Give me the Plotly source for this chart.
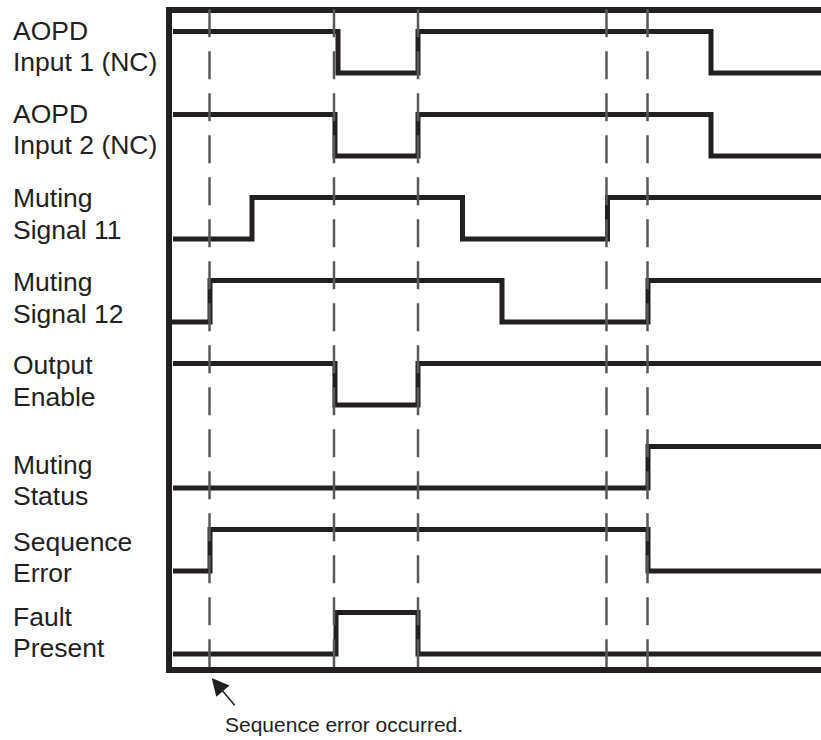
import plotly.graph_objects as go

# signal names (two text lines each)
signal_labels = [
    ("AOPD", "Input 1 (NC)"),
    ("AOPD", "Input 2 (NC)"),
    ("Muting", "Signal 11"),
    ("Muting", "Signal 12"),
    ("Output", "Enable"),
    ("Muting", "Status"),
    ("Sequence", "Error"),
    ("Fault", "Present"),
]

# step changes: time of each change and the level (1 = high, 0 = low) from then on
aopd1_t = [1, 166, 246, 539, 700]
aopd1_v = [1, 0, 1, 0, 0]
aopd2_t = [1, 163, 246, 539, 700]
aopd2_v = [1, 0, 1, 0, 0]
mute11_t = [1, 80, 290.5, 435.5, 700]
mute11_v = [0, 1, 0, 1, 1]
mute12_t = [-1, 38, 330, 476, 700]
mute12_v = [0, 1, 0, 1, 1]
out_en_t = [1, 163, 246, 700]
out_en_v = [1, 0, 1, 1]
mute_st_t = [1, 476, 700]
mute_st_v = [0, 1, 1]
seq_err_t = [1, 38, 476, 700]
seq_err_v = [0, 1, 0, 0]
fault_t = [1, 164, 246, 700]
fault_v = [0, 1, 0, 0]

# dashed reference instants
event_times = [37.5, 162, 246, 434.5, 475.5]
error_time = 39.7   # where the arrow points

caption = "Sequence error occurred."

signals = [
    (aopd1_t, aopd1_v), (aopd2_t, aopd2_v), (mute11_t, mute11_v), (mute12_t, mute12_v),
    (out_en_t, out_en_v), (mute_st_t, mute_st_v), (seq_err_t, seq_err_v), (fault_t, fault_v),
]

INK = "#231f20"
GREY = "#58595b"
FONT = "Liberation Sans, Arial, Helvetica, sans-serif"
AMP = 0.5          # high level height, in row units
ROW_PX = 83.0      # pixels per row
Y_TOP = 60 / ROW_PX
Y_BOT = -7 - 13 / ROW_PX


def to_paper(yv):
    return (yv - Y_BOT) / (Y_TOP - Y_BOT)


fig = go.Figure()

for i, (t, v) in enumerate(signals):
    fig.add_trace(go.Scatter(
        x=t, y=[-i + AMP * lv for lv in v],
        mode="lines", line=dict(color=INK, width=5, shape="hv"),
        hoverinfo="skip", showlegend=False
    ))

for t in event_times:
    fig.add_shape(
        type="line", xref="x", yref="paper", x0=t, x1=t, y0=1.0057, y1=-0.0092,
        line=dict(color=GREY, width=2.5, dash="28px,14px"), layer="above"
    )

# lift of the first label line above the row's low level (row units)
label_lift = [0.51, 0.51, 0.49, 0.48, 0.48, 0.28, 0.35, 0.45]
line_gap = 31.5 / ROW_PX

for i, (l1, l2) in enumerate(signal_labels):
    for k, txt in enumerate((l1, l2)):
        fig.add_annotation(
            x=-161 / 649, y=to_paper(-i + label_lift[i] - k * line_gap),
            xref="paper", yref="paper",
            text=txt, showarrow=False, xanchor="left", yanchor="middle",
            font=dict(family=FONT, size=26.5, color=INK)
        )

fig.add_annotation(
    x=error_time / 649, y=to_paper(-7.289), xref="paper", yref="paper", text="",
    showarrow=True, ax=24.3, ay=28.7, arrowhead=2, arrowsize=2.3, arrowwidth=1.5,
    arrowcolor=INK
)
fig.add_annotation(
    x=172 / 649, y=to_paper(-7.855), xref="paper", yref="paper", text=caption,
    showarrow=False, xanchor="center", yanchor="middle",
    font=dict(family=FONT, size=21, color=INK)
)

fig.update_layout(
    width=821, height=740,
    margin=dict(l=172, r=0, t=13, b=73),
    paper_bgcolor="white", plot_bgcolor="white",
    showlegend=False,
)
fig.update_xaxes(
    range=[0, 649], showline=True, linewidth=6, linecolor=INK, mirror=True,
    showgrid=False, zeroline=False, showticklabels=False, ticks=""
)
fig.update_yaxes(
    range=[Y_BOT, Y_TOP], showline=True, linewidth=6, linecolor=INK,
    mirror=False, showgrid=False, zeroline=False, showticklabels=False, ticks=""
)

fig.write_html(
    "out.html", config={"displayModeBar": False},
    post_script="document.body.style.margin='0';document.body.style.overflow='hidden';"
)
